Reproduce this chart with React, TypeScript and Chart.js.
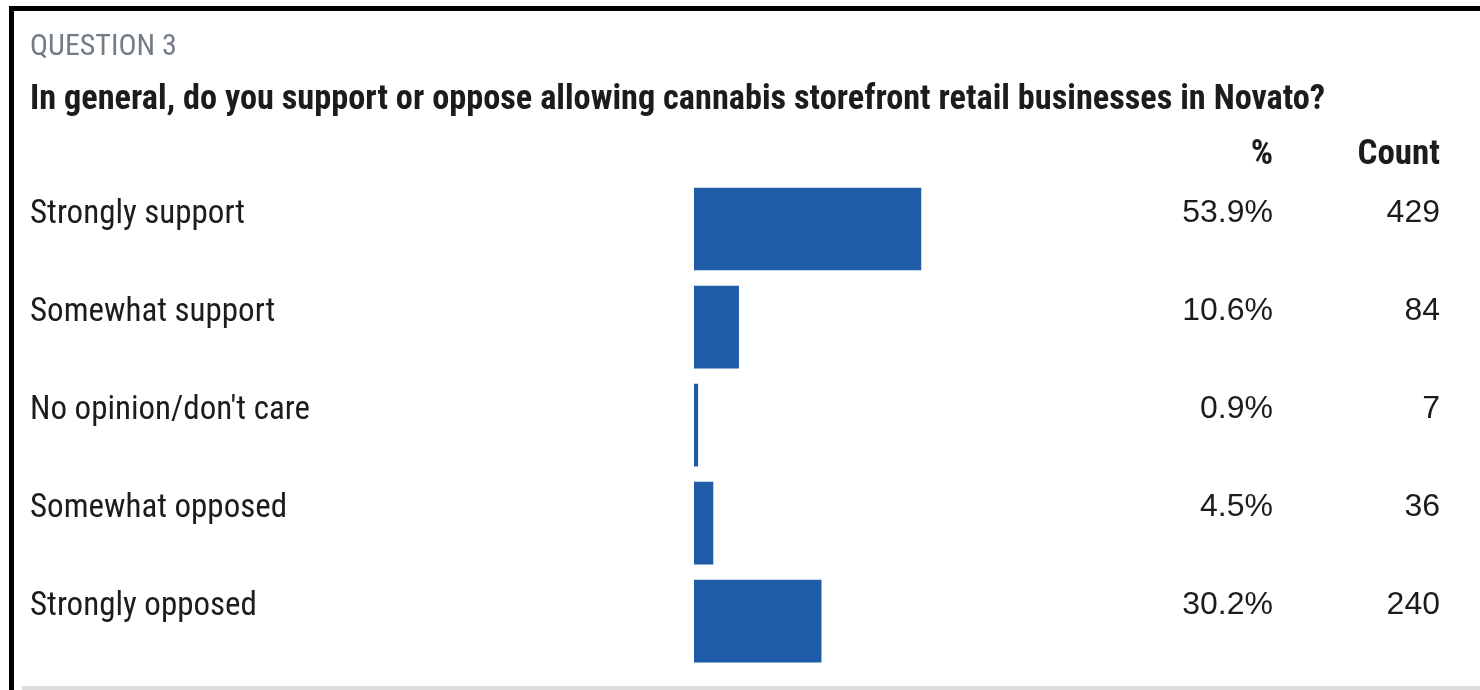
import React, { useEffect, useRef } from "react";
import { Chart, registerables } from "chart.js";

Chart.register(...registerables);

// ---- data ----
const questionLabel = "QUESTION 3";
const questionText =
  "In general, do you support or oppose allowing cannabis storefront retail businesses in Novato?";
const categories = [
  "Strongly support",
  "Somewhat support",
  "No opinion/don't care",
  "Somewhat opposed",
  "Strongly opposed",
];
const percents = [53.9, 10.6, 0.9, 4.5, 30.2];
const counts = [429, 84, 7, 36, 240];
const columnHeaders = ["%", "Count"];

const BAR_COLOR = "#1e5ca7";
const TEXT_COLOR = "#1c1c1c";

const columnsPlugin = {
  id: "columns",
  afterDraw(chart: any) {
    const { ctx, chartArea } = chart;
    const y = chart.scales.y;
    const pctX = 1273;
    const cntX = 1440;
    ctx.save();
    ctx.fillStyle = TEXT_COLOR;
    ctx.textAlign = "right";
    ctx.textBaseline = "alphabetic";
    ctx.font = "bold 35px 'Roboto Condensed'";
    ctx.fillText(columnHeaders[0], pctX, chartArea.top - 16);
    ctx.fillText(columnHeaders[1], cntX, chartArea.top - 16);
    ctx.font = "32px 'Liberation Sans'";
    percents.forEach((p, i) => {
      const cy = y.getPixelForValue(i);
      ctx.fillText(p.toFixed(1) + "%", pctX, cy - 7);
      ctx.fillText(String(counts[i]), cntX, cy - 7);
    });
    ctx.restore();
  },
};

export default function App() {
  const ref = useRef<HTMLCanvasElement | null>(null);

  useEffect(() => {
    if (!ref.current) return;
    const chart = new Chart(ref.current, {
      type: "bar",
      data: {
        labels: categories,
        datasets: [
          {
            data: percents,
            backgroundColor: BAR_COLOR,
            borderWidth: 0,
            barThickness: 82,
          },
        ],
      },
      options: {
        indexAxis: "y",
        animation: false,
        responsive: false,
        maintainAspectRatio: false,
        devicePixelRatio: 1,
        layout: { padding: { left: 30, top: 180, right: 365, bottom: 18 } },
        plugins: {
          legend: { display: false },
          tooltip: { enabled: false },
          title: { display: false },
        },
        scales: {
          x: {
            display: false,
            min: 0,
            max: 100,
          },
          y: {
            grid: { display: false, drawTicks: false },
            border: { display: false },
            afterFit(scale: any) {
              scale.width = 664;
            },
            ticks: {
              autoSkip: false,
              crossAlign: "far",
              padding: 0,
              labelOffset: -14,
              color: TEXT_COLOR,
              font: { family: "'Roboto Condensed'", size: 33, weight: "normal" },
            },
          },
        },
      },
      plugins: [columnsPlugin],
    });
    return () => chart.destroy();
  }, []);

  return (
    <div
      style={{
        position: "fixed",
        left: 0,
        top: 0,
        width: 1480,
        height: 690,
        background: "#fff",
        overflow: "hidden",
      }}
    >
      <canvas
        ref={ref}
        width={1480}
        height={690}
        style={{ position: "absolute", left: 0, top: 0, width: 1480, height: 690 }}
      />
      <div
        style={{
          position: "absolute",
          left: 30,
          top: 30,
          fontFamily: "'Roboto Condensed'",
          fontSize: 30,
          lineHeight: "30px",
          color: "#747c86",
          whiteSpace: "nowrap",
        }}
      >
        {questionLabel}
      </div>
      <div
        style={{
          position: "absolute",
          left: 30,
          top: 80,
          fontFamily: "'Roboto Condensed'",
          fontWeight: "bold",
          fontSize: 34.3,
          lineHeight: "34px",
          color: TEXT_COLOR,
          whiteSpace: "nowrap",
        }}
      >
        {questionText}
      </div>
      {/* frame: top and left black border */}
      <div style={{ position: "absolute", left: 9, top: 6, width: 1471, height: 5, background: "#000" }} />
      <div style={{ position: "absolute", left: 9, top: 6, width: 5, height: 684, background: "#000" }} />
      {/* bottom rule */}
      <div style={{ position: "absolute", left: 22, top: 686, width: 1458, height: 4, background: "#dcdcdc" }} />
    </div>
  );
}
